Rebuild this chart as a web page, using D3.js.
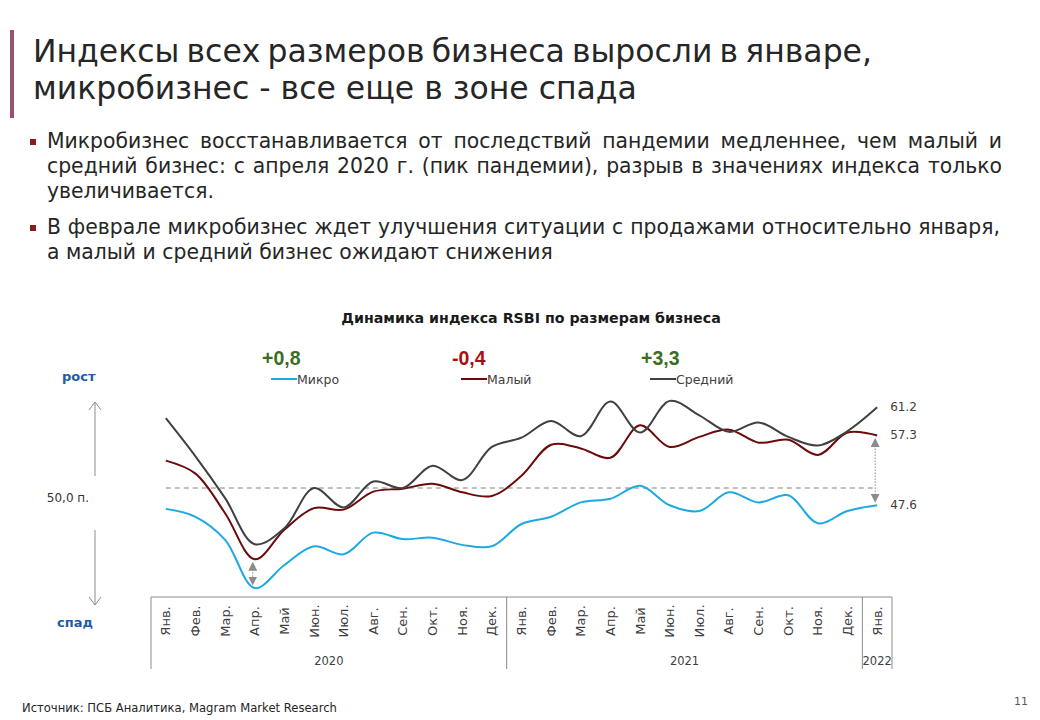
<!DOCTYPE html>
<html lang="ru">
  <head>
    <meta charset="UTF-8" />
    <title>Динамика индекса RSBI по размерам бизнеса</title>
    <script src="https://d3js.org/d3.v7.min.js"></script>
    <style>
      body {
        margin: 0;
        padding: 0;
        background: #fff;
      }
      svg {
        display: block;
        font-family: "DejaVu Sans", sans-serif;
      }
    </style>
  </head>
  <body>
    <svg width="1040" height="720"></svg>
    <script>
      // --- data ---
      const months = [
        "Янв.", "Фев.", "Мар.", "Апр.", "Май", "Июн.", "Июл.", "Авг.", "Сен.", "Окт.", "Ноя.", "Дек.",
        "Янв.", "Фев.", "Мар.", "Апр.", "Май", "Июн.", "Июл.", "Авг.", "Сен.", "Окт.", "Ноя.", "Дек.",
        "Янв.",
      ];
      const years = ["2020", "2021", "2022"];
      const yearMonths = [12, 12, 1];

      const micro = [47.1, 46.0, 42.8, 36.1, 39.3, 41.9, 40.8, 43.8, 42.9, 43.1, 42.1, 41.9,
        45.0, 46.0, 48.0, 48.5, 50.3, 47.6, 46.8, 49.4, 48.0, 49.0, 45.1, 46.8, 47.6];
      const small = [53.8, 52.0, 46.5, 40.1, 44.2, 47.2, 47.0, 49.5, 49.9, 50.6, 49.4, 48.9,
        51.7, 56.0, 55.5, 54.2, 58.7, 55.7, 57.1, 58.1, 56.3, 56.7, 54.6, 57.7, 57.3];
      const medium = [59.7, 54.4, 48.6, 42.2, 44.4, 50.0, 47.3, 50.9, 50.0, 53.1, 51.1, 55.7,
        57.0, 59.3, 57.2, 62.0, 57.7, 62.1, 60.1, 57.8, 59.1, 57.1, 55.9, 57.9, 61.2];

      const seriesNames = ["Микро", "Малый", "Средний"];
      const changes = ["+0,8", "-0,4", "+3,3"];
      const threshold = 50;

      const titleLines = [
        "Индексы всех размеров бизнеса выросли в январе,",
        "микробизнес - все еще в зоне спада",
      ];
      const bullets = [
        [
          "Микробизнес восстанавливается от последствий пандемии медленнее, чем малый и",
          "средний бизнес: с апреля 2020 г. (пик пандемии), разрыв в значениях индекса только",
          "увеличивается.",
        ],
        [
          "В феврале микробизнес ждет улучшения ситуации с продажами относительно января,",
          "а малый и средний бизнес ожидают снижения",
        ],
      ];

      const colors = ["#1ea9e1", "#6b0b0b", "#404040"];
      const changeColors = ["#3b6e23", "#a80f0f", "#3b6e23"];
      const series = [micro, small, medium];

      const svg = d3.select("svg");

      // fit a text element's font size so it spans a given width
      function fitWidth(sel, target) {
        const fs = parseFloat(sel.attr("font-size"));
        const w = sel.node().getComputedTextLength();
        sel.attr("font-size", (fs * target) / w);
      }

      function justify(sel, target) {
        const n = sel.node();
        const w = n.getComputedTextLength();
        const spaces = (n.textContent.match(/ /g) || []).length;
        if (spaces) sel.style("word-spacing", (target - w) / spaces + "px");
      }

      // --- header ---
      svg.append("rect")
        .attr("x", 10).attr("y", 30)
        .attr("width", 4).attr("height", 88)
        .attr("fill", "#98526f");

      const title = svg.append("g").attr("fill", "#262626");
      const t1 = title.append("text").attr("x", 33).attr("y", 62).attr("font-size", 30).text(titleLines[0]);
      const t2 = title.append("text").attr("x", 33).attr("y", 99).attr("font-size", 30).text(titleLines[1]);
      fitWidth(t2, 604);
      t1.attr("font-size", t2.attr("font-size"));
      justify(t1, 839);

      const body = svg.append("g").attr("fill", "#262626");
      const lineY = [[148, 173, 198], [234, 259]];
      const justifyTo = [[955, 955, null], [953, null]];
      // font size from the last (unjustified) line
      const probe = body.append("text").attr("font-size", 18).text(bullets[1][1]);
      fitWidth(probe, 506);
      const bodySize = probe.attr("font-size");
      probe.remove();

      bullets.forEach((lines, b) => {
        body.append("rect")
          .attr("x", 30).attr("y", lineY[b][0] - 9)
          .attr("width", 6).attr("height", 6)
          .attr("fill", "#8b1a1a");
        lines.forEach((s, i) => {
          const t = body.append("text")
            .attr("x", 47).attr("y", lineY[b][i])
            .attr("font-size", bodySize)
            .text(s);
          if (justifyTo[b][i]) justify(t, justifyTo[b][i]);
        });
      });

      // --- chart ---
      const x = d3.scalePoint().domain(d3.range(months.length)).range([151, 892]).padding(0.5);
      const step = x.step();
      const y = d3.scaleLinear().domain([30, 70]).range([632, 344]);

      const ct = svg.append("text")
        .attr("x", 531).attr("y", 323)
        .attr("text-anchor", "middle")
        .attr("font-weight", "bold")
        .attr("font-size", 15)
        .attr("fill", "#1a1a1a")
        .text("Динамика индекса RSBI по размерам бизнеса");
      fitWidth(ct, 380);

      // legend
      const legendX = [271, 461, 650];
      const legend = svg.append("g");
      seriesNames.forEach((name, i) => {
        const g = legend.append("g").attr("transform", `translate(${legendX[i]},0)`);
        g.append("text")
          .attr("x", -9).attr("y", 365)
          .attr("font-family", "'Liberation Sans', Arial, sans-serif")
          .attr("font-weight", "bold")
          .attr("font-size", 19.5)
          .attr("fill", changeColors[i])
          .text(changes[i]);
        g.append("line")
          .attr("x1", 0).attr("x2", 26)
          .attr("y1", 379).attr("y2", 379)
          .attr("stroke", colors[i]).attr("stroke-width", 2);
        g.append("text")
          .attr("x", 26).attr("y", 384)
          .attr("font-size", 12.5)
          .attr("fill", "#404040")
          .text(name);
      });

      // threshold
      svg.append("line")
        .attr("x1", x(0)).attr("x2", x(months.length - 1))
        .attr("y1", y(threshold)).attr("y2", y(threshold))
        .attr("stroke", "#808080")
        .attr("stroke-width", 1)
        .attr("stroke-dasharray", "5,4");

      // series
      const line = d3.line()
        .x((d, i) => x(i))
        .y((d) => y(d))
        .curve(d3.curveCatmullRom.alpha(0.5));

      svg.append("g")
        .selectAll("path")
        .data(series)
        .join("path")
        .attr("d", line)
        .attr("fill", "none")
        .attr("stroke", (d, i) => colors[i])
        .attr("stroke-width", 2);

      // end labels
      const last = months.length - 1;
      svg.append("g")
        .selectAll("text")
        .data(series)
        .join("text")
        .attr("x", x(last) + 13)
        .attr("y", (d) => y(d[last]) + 4)
        .attr("font-size", 12)
        .attr("fill", "#404040")
        .text((d) => d[last].toFixed(1));

      // gap arrows
      const defs = svg.append("defs");
      defs.append("marker")
        .attr("id", "tri")
        .attr("viewBox", "0 0 10 10")
        .attr("refX", 5).attr("refY", 5)
        .attr("markerWidth", 9).attr("markerHeight", 9)
        .attr("markerUnits", "userSpaceOnUse")
        .attr("orient", "auto-start-reverse")
        .append("path")
        .attr("d", "M0,0 L10,5 L0,10 Z")
        .attr("fill", "#8c8c8c");

      [3, last].forEach((i) => {
        svg.append("line")
          .attr("x1", x(i) - 2).attr("x2", x(i) - 2)
          .attr("y1", y(small[i]) + 7)
          .attr("y2", y(micro[i]) - 7)
          .attr("stroke", "#8c8c8c")
          .attr("stroke-width", 1)
          .attr("stroke-dasharray", "1.5,1.5")
          .attr("marker-start", "url(#tri)")
          .attr("marker-end", "url(#tri)");
      });

      // growth / decline arrows on the left
      const side = svg.append("g").attr("stroke", "#8c8c8c").attr("fill", "none").attr("stroke-width", 1);
      side.append("path").attr("d", "M95,476 V402 M89,410 L95,402 L101,410");
      side.append("path").attr("d", "M95,530 V605 M89,597 L95,605 L101,597");

      svg.append("text")
        .attr("x", 62).attr("y", 381)
        .attr("font-weight", "bold").attr("font-size", 13)
        .attr("fill", "#1f5ca8")
        .text("рост");
      svg.append("text")
        .attr("x", 57).attr("y", 627)
        .attr("font-weight", "bold").attr("font-size", 13)
        .attr("fill", "#1f5ca8")
        .text("спад");
      svg.append("text")
        .attr("x", 89).attr("y", 502)
        .attr("text-anchor", "end")
        .attr("font-size", 12)
        .attr("fill", "#333")
        .text("50,0 п.");

      // category table
      const table = svg.append("g");
      const left = x(0) - step / 2;
      const right = x(last) + step / 2;
      table.append("line")
        .attr("x1", left).attr("x2", right)
        .attr("y1", 597).attr("y2", 597)
        .attr("stroke", "#8c8c8c");

      let start = 0;
      const bounds = [left];
      const yearCenters = [];
      yearMonths.forEach((n) => {
        const a = x(start) - step / 2;
        const b = x(start + n - 1) + step / 2;
        yearCenters.push((a + b) / 2);
        bounds.push(b);
        start += n;
      });
      table.selectAll("line.sep")
        .data(bounds)
        .join("line")
        .attr("class", "sep")
        .attr("x1", (d) => d).attr("x2", (d) => d)
        .attr("y1", 597).attr("y2", 669)
        .attr("stroke", "#8c8c8c");

      table.selectAll("text.month")
        .data(months)
        .join("text")
        .attr("class", "month")
        .attr("transform", (d, i) => `translate(${x(i) + 4.5},621) rotate(-90)`)
        .attr("text-anchor", "middle")
        .attr("font-size", 13)
        .attr("fill", "#404040")
        .text((d) => d);

      table.selectAll("text.year")
        .data(years)
        .join("text")
        .attr("class", "year")
        .attr("x", (d, i) => yearCenters[i])
        .attr("y", 665)
        .attr("text-anchor", "middle")
        .attr("font-size", 11.5)
        .attr("fill", "#404040")
        .text((d) => d);

      // footer
      const src = svg.append("text")
        .attr("x", 22).attr("y", 712)
        .attr("font-size", 12)
        .attr("fill", "#262626")
        .text("Источник: ПСБ Аналитика, Magram Market Research");
      fitWidth(src, 315);

      svg.append("text")
        .attr("x", 1028).attr("y", 705)
        .attr("text-anchor", "end")
        .attr("font-size", 11)
        .attr("fill", "#595959")
        .text("11");
    </script>
  </body>
</html>
